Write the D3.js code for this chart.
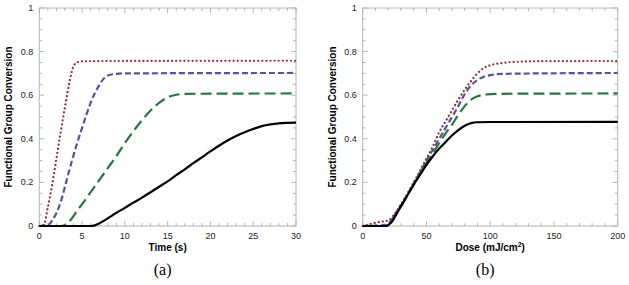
<!DOCTYPE html>
<html>
<head>
<meta charset="utf-8">
<script src="https://cdn.jsdelivr.net/npm/d3@7"></script>
<style>
  body { margin: 0; background: #fff; }
  text { font-family: Arial, "Liberation Sans", sans-serif; }
  text.panel-label { font-family: "Liberation Serif", "DejaVu Serif", serif; }
</style>
</head>
<body>
<svg id="chart" width="629" height="285"></svg>
<script>
// panel (a): conversion vs time (s)
const timeRed = [[0,0],[0.5,0.005],[1,0.085],[1.5,0.19],[2,0.31],[2.5,0.43],[3,0.545],[3.5,0.655],[4,0.733],[4.5,0.752],[5,0.755],[10,0.757],[30,0.758]];
const timeBlue = [[0,0],[1,0.005],[1.5,0.025],[2,0.06],[2.5,0.11],[3,0.18],[3.5,0.255],[4,0.325],[4.5,0.39],[5,0.45],[5.5,0.51],[6,0.565],[6.5,0.61],[7,0.645],[7.5,0.675],[8,0.69],[9,0.698],[10,0.70],[30,0.702]];
const timeGreen = [[0,0],[2.5,0],[3,0.005],[3.5,0.02],[4,0.045],[4.5,0.075],[5,0.10],[6,0.155],[7,0.21],[8,0.265],[9,0.32],[10,0.38],[11,0.435],[12,0.485],[13,0.53],[14,0.565],[15,0.59],[16,0.602],[17,0.606],[20,0.607],[30,0.608]];
const timeBlack = [[0,0],[6,0],[6.5,0.003],[7,0.012],[8,0.035],[9,0.06],[10,0.083],[11,0.107],[12,0.13],[13,0.155],[14,0.18],[15,0.205],[16,0.233],[17,0.26],[18,0.288],[19,0.315],[20,0.342],[21,0.368],[22,0.392],[23,0.413],[24,0.43],[25,0.445],[26,0.458],[27,0.466],[28,0.471],[29,0.473],[30,0.474]];

// panel (b): conversion vs dose (mJ/cm2)
const doseRed = [[0,0],[5,0.008],[10,0.015],[15,0.02],[20,0.025],[25,0.055],[30,0.1],[40,0.2],[50,0.31],[55,0.365],[60,0.43],[65,0.48],[70,0.53],[75,0.58],[80,0.625],[85,0.665],[90,0.70],[95,0.725],[100,0.737],[110,0.748],[120,0.753],[140,0.756],[200,0.757]];
const doseBlue = [[0,0],[10,0.002],[18,0.005],[20,0.01],[25,0.05],[30,0.095],[40,0.195],[50,0.30],[55,0.35],[60,0.40],[65,0.45],[70,0.50],[75,0.55],[80,0.605],[85,0.645],[90,0.67],[95,0.685],[100,0.692],[110,0.698],[200,0.702]];
const doseGreen = [[0,0],[18,0],[20,0.003],[25,0.045],[30,0.09],[35,0.14],[40,0.19],[45,0.24],[50,0.29],[55,0.335],[60,0.38],[65,0.425],[70,0.465],[75,0.51],[80,0.55],[85,0.58],[90,0.595],[95,0.602],[100,0.605],[120,0.607],[200,0.608]];
const doseBlack = [[0,0],[18,0],[20,0.004],[23,0.02],[26,0.05],[30,0.09],[35,0.14],[40,0.19],[45,0.235],[50,0.28],[55,0.32],[60,0.355],[65,0.385],[70,0.415],[75,0.44],[80,0.46],[85,0.472],[90,0.476],[100,0.477],[200,0.478]];

const yTicks = [0, 0.2, 0.4, 0.6, 0.8, 1];
const timeTicks = [0, 5, 10, 15, 20, 25, 30];
const doseTicks = [0, 50, 100, 150, 200];

const styles = [
    {color: "#9e2a35", dash: "0.1,4", cap: "round", width: 2.2},
    {color: "#5252aa", dash: "6,3", cap: "butt", width: 2.2},
    {color: "#217a3a", dash: "11,5", cap: "butt", width: 2.2},
    {color: "#000", dash: null, cap: "butt", width: 2.2}
];

const svg = d3.select("#chart");

function drawPanel(opts) {
    let x = d3.scaleLinear().domain(opts.xDomain).range([opts.left, opts.right]);
    let y = d3.scaleLinear().domain([0, 1]).range([226, 8]);
    let g = svg.append("g");

    // frame
    g.append("rect")
        .attr("x", opts.left).attr("y", 8)
        .attr("width", opts.right - opts.left).attr("height", 218)
        .attr("fill", "none").attr("stroke", "#b5b5b5").attr("stroke-width", 1);

    // minor ticks (inside, all four sides)
    let xMinor = d3.range(opts.xDomain[0], opts.xDomain[1] + 1e-9, opts.xMinor);
    let yMinor = d3.range(0, 1 + 1e-9, 0.05);
    let tickColor = "#b5b5b5";
    xMinor.forEach(v => {
        let len = opts.xTicks.includes(+v.toFixed(6)) ? 5 : 3;
        g.append("line").attr("x1", x(v)).attr("x2", x(v)).attr("y1", 226).attr("y2", 226 - len).attr("stroke", tickColor);
        g.append("line").attr("x1", x(v)).attr("x2", x(v)).attr("y1", 8).attr("y2", 8 + len).attr("stroke", tickColor);
    });
    yMinor.forEach(v => {
        let major = Math.abs(v * 5 - Math.round(v * 5)) < 1e-6;
        let len = major ? 5 : 3;
        g.append("line").attr("y1", y(v)).attr("y2", y(v)).attr("x1", opts.left).attr("x2", opts.left + len).attr("stroke", tickColor);
        g.append("line").attr("y1", y(v)).attr("y2", y(v)).attr("x1", opts.right).attr("x2", opts.right - len).attr("stroke", tickColor);
    });

    // tick labels
    g.selectAll(".xl").data(opts.xTicks).join("text")
        .attr("x", d => x(d)).attr("y", 239)
        .attr("text-anchor", "middle").attr("font-size", 9).attr("fill", "#222")
        .text(d => d);
    g.selectAll(".yl").data(yTicks).join("text")
        .attr("x", opts.left - 6).attr("y", d => y(d) + 3)
        .attr("text-anchor", "end").attr("font-size", 9).attr("fill", "#222")
        .text(d => d);

    // curves
    let line = d3.line().x(d => x(d[0])).y(d => y(d[1])).curve(d3.curveMonotoneX);
    opts.series.forEach((s, i) => {
        let st = styles[i];
        g.append("path")
            .attr("d", line(s))
            .attr("fill", "none")
            .attr("stroke", st.color)
            .attr("stroke-width", st.width)
            .attr("stroke-linecap", st.cap)
            .attr("stroke-dasharray", st.dash);
    });

    // axis titles
    g.append("text")
        .attr("transform", `translate(${opts.left - 27},117) rotate(-90)`)
        .attr("text-anchor", "middle").attr("font-size", 10).attr("font-weight", "bold")
        .text("Functional Group Conversion");
    let xt = g.append("text")
        .attr("x", (opts.left + opts.right) / 2).attr("y", 251)
        .attr("text-anchor", "middle").attr("font-size", 10).attr("font-weight", "bold");
    opts.xTitle(xt);

    g.append("text")
        .attr("class", "panel-label")
        .attr("x", (opts.left + opts.right) / 2 - 5).attr("y", 275)
        .attr("text-anchor", "middle")
        .attr("font-size", 16)
        .text(opts.label);
}

drawPanel({
    left: 39.3, right: 296, xDomain: [0, 30], xMinor: 1, xTicks: timeTicks,
    series: [timeRed, timeBlue, timeGreen, timeBlack],
    xTitle: t => t.text("Time (s)"),
    label: "(a)"
});

drawPanel({
    left: 362.7, right: 617.7, xDomain: [0, 200], xMinor: 10, xTicks: doseTicks,
    series: [doseRed, doseBlue, doseGreen, doseBlack],
    xTitle: t => {
        t.append("tspan").text("Dose (mJ/cm");
        t.append("tspan").attr("font-size", 7).attr("dy", -4).text("2");
        t.append("tspan").attr("dy", 4).text(")");
    },
    label: "(b)"
});
</script>
</body>
</html>
